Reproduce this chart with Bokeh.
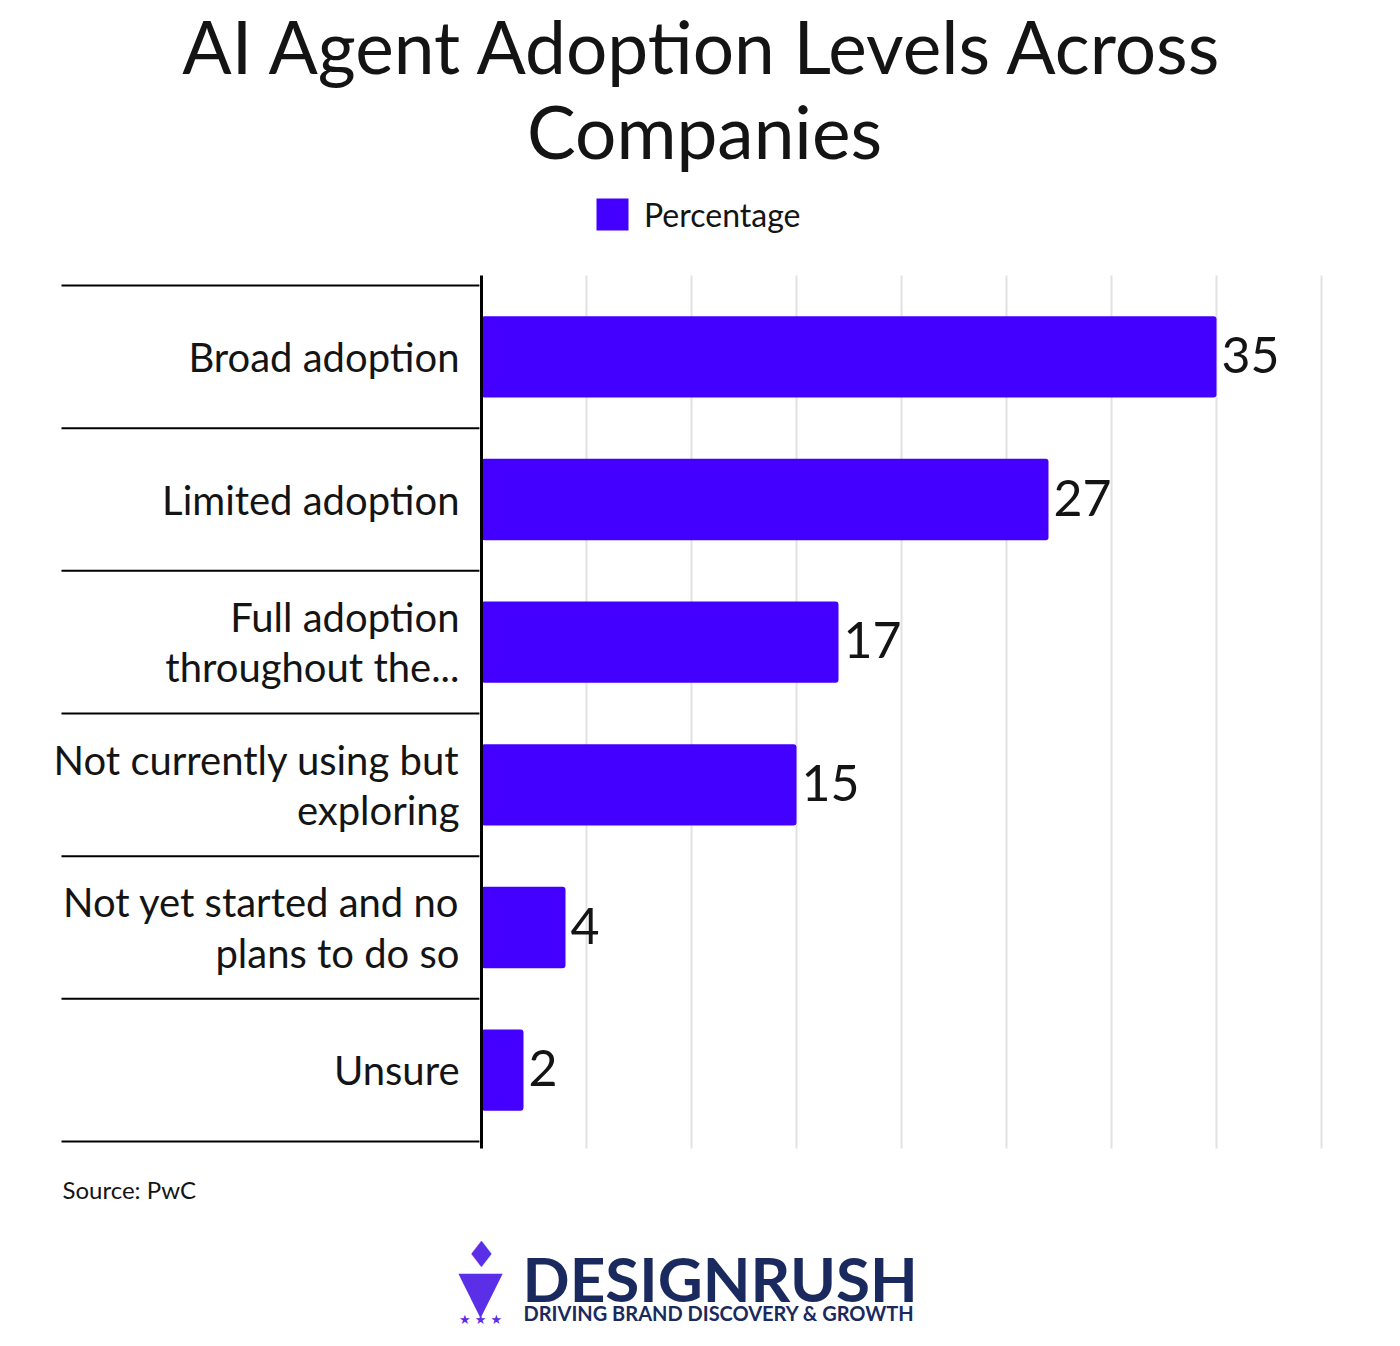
from bokeh.plotting import figure
from bokeh.models import ColumnDataSource, Range1d, Legend, LegendItem
from bokeh.core.properties import value
from bokeh.embed import file_html
from bokeh.resources import INLINE

# ---- data ----
categories = ["Broad adoption", "Limited adoption", "Full adoption\nthroughout the...",
              "Not currently using but\nexploring", "Not yet started and no\nplans to do so",
              "Unsure"]
percentages = [35, 27, 17, 15, 4, 2]
grid_ticks = [5, 10, 15, 20, 25, 30, 35, 40]
series_name = "Percentage"
title_lines = ["AI Agent Adoption Levels Across", "Companies"]
source_text = "Source: PwC"
brand = "DESIGNRUSH"
tagline = "DRIVING BRAND DISCOVERY & GROWTH"

FONT = "Lato"
BAR = "#4400FF"
INK = "#141414"
NAVY = "#1B2A5E"
ICON = "#5B2EE8"

W, H = 1384, 1330
n = len(categories)
ypos = list(range(n - 1, -1, -1))
src = ColumnDataSource(dict(cat=categories, val=percentages, y=ypos,
                            vlab=[str(v) for v in percentages]))

# scale: 0% at page px 481, 21 px per percent; row boundary n-0.5 at page px 285
PX_X = 21.0
PX_Y = 856 / n
x0 = -481 / PX_X
x1 = x0 + W / PX_X
y1 = (n - 0.5) + 285 / PX_Y
y0 = y1 - H / PX_Y

p = figure(width=W, height=H, output_backend="svg", toolbar_location=None,
           x_range=Range1d(x0, x1), y_range=Range1d(y0, y1),
           x_axis_location=None, y_axis_location=None, min_border=0)
p.grid.visible = False
p.outline_line_color = None
p.background_fill_color = "white"
p.border_fill_color = "white"

# page-pixel -> data helpers (for positioning only)
def dx(px):
    return x0 + px / PX_X

def dy(py):
    return y1 - py / PX_Y

g_top, g_bot = dy(275), dy(1148)

# vertical grid lines
p.segment(x0=grid_ticks, x1=grid_ticks, y0=[g_bot] * len(grid_ticks), y1=[g_top] * len(grid_ticks),
          line_color="#E2E2E2", line_width=2)

# separators between category rows
sep_y = [k - 0.5 for k in range(n + 1)]
p.segment(x0=[dx(61)] * len(sep_y), x1=[-0.1] * len(sep_y), y0=sep_y, y1=sep_y,
          line_color="black", line_width=2)

bars = p.hbar(y="y", left=0, right="val", height=0.57, source=src,
              fill_color=BAR, line_color=None, border_radius=3)

# value axis baseline
p.segment(x0=[0], x1=[0], y0=[g_bot], y1=[g_top], line_color="black", line_width=3)

p.text(x="val", y="y", text="vlab", source=src, x_offset=5, y_offset=-2,
       text_font=value(FONT), text_font_size="50px", text_color=INK,
       text_align="left", text_baseline="middle")

p.text(x=0, y="y", text="cat", source=src, x_offset=-22,
       text_font=value(FONT), text_font_size="40px", text_color=INK,
       text_align="right", text_baseline="middle", text_line_height=1.05)

def put(px, py, txt, size, color=INK, font=FONT, align="left", style="normal"):
    # py = vertical centre of the capitals, in page pixels
    p.text(x=[dx(px)], y=[dy(py)], text=[txt], text_font=value(font),
           text_font_size=size, text_color=color, text_align=align,
           text_baseline="middle", text_font_style=style)

# title
for line, mid in zip(title_lines, [45, 130]):
    put(704, mid, line, "73px", align="center")

# legend (location: bottom-left corner of legend box, px from frame's bottom-left)
legend = Legend(items=[LegendItem(label=series_name, renderers=[bars])],
                location=(592, H - 234), glyph_width=40, glyph_height=40,
                label_standoff=12, label_text_font=FONT, label_text_font_size="32px",
                label_text_color=INK, padding=0, margin=0, border_line_alpha=0,
                background_fill_alpha=0)
p.add_layout(legend)

# source
put(62, 1189, source_text, "24px")

# brand block
put(522, 1277, brand, "62px", color=NAVY, style="bold")
put(523, 1312, tagline, "20px", color=NAVY, style="bold")
put(480, 1290, "▼", "58px", color=ICON, font="DejaVu Sans", align="center")
put(481, 1254, "♦", "36px", color=ICON, font="DejaVu Sans", align="center")
put(480, 1319, "★ ★ ★", "13px", color=ICON, font="DejaVu Sans", align="center")

open("out.html", "w").write(file_html(p, INLINE))
